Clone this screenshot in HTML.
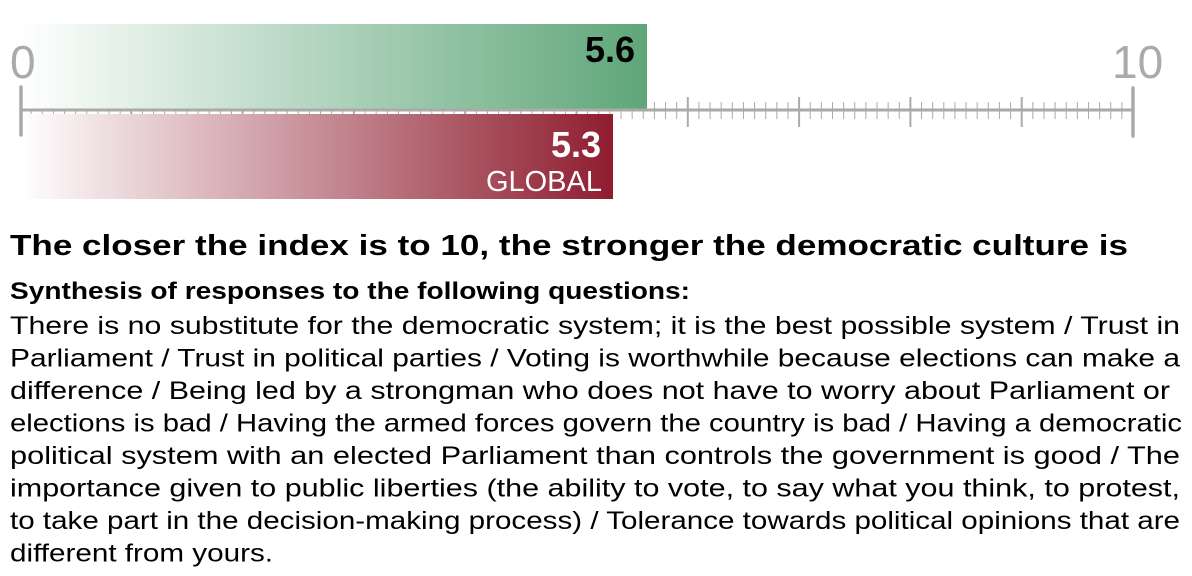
<!DOCTYPE html>
<html><head><meta charset="utf-8">
<style>
html,body{margin:0;padding:0;background:#fff;}
svg{display:block;}
text{font-family:"Liberation Sans",sans-serif;}
</style></head>
<body>
<svg id="s" width="1192" height="576" viewBox="0 0 1192 576" xmlns="http://www.w3.org/2000/svg">
<defs>
<linearGradient id="g" x1="0" x2="1" y1="0" y2="0">
<stop offset="0" stop-color="#5fa679" stop-opacity="0"/>
<stop offset="1" stop-color="#5fa679" stop-opacity="1"/>
</linearGradient>
<linearGradient id="r" x1="0" x2="1" y1="0" y2="0">
<stop offset="0" stop-color="#8e1d2f" stop-opacity="0"/>
<stop offset="1" stop-color="#8e1d2f" stop-opacity="1"/>
</linearGradient>
</defs>
<g id="ticks" stroke="#aaaaa7"></g>
<rect x="20" y="24" width="627" height="85" fill="#fff"/>
<rect x="20" y="114" width="593" height="85" fill="#fff"/>
<rect x="20" y="24" width="627" height="85" fill="url(#g)"/>
<rect x="20" y="114" width="593" height="85" fill="url(#r)"/>
<line x1="20" y1="110" x2="1133" y2="110" stroke="#aaaaa7" stroke-width="3"/>
<line x1="21" y1="87" x2="21" y2="135" stroke="#aaaaa7" stroke-width="3.5" stroke-linecap="round"/>
<line x1="1133" y1="88" x2="1133" y2="136" stroke="#aaaaa7" stroke-width="3.5" stroke-linecap="round"/>
<text x="10" y="78" font-size="46" fill="#aaaaa7">0</text>
<text x="1112" y="78" font-size="46" fill="#aaaaa7">10</text>
<text x="635" y="62" font-size="36" font-weight="bold" text-anchor="end" fill="#000">5.6</text>
<text x="601" y="157" font-size="36" font-weight="bold" text-anchor="end" fill="#fff">5.3</text>
<text x="602" y="191" font-size="29" text-anchor="end" fill="#fff">GLOBAL</text>
<text x="10" y="255" font-size="29" font-weight="bold" textLength="1118" lengthAdjust="spacingAndGlyphs">The closer the index is to 10, the stronger the democratic culture is</text>
<text x="10" y="299" font-size="24" font-weight="bold" textLength="680" lengthAdjust="spacingAndGlyphs">Synthesis of responses to the following questions:</text>
<g font-size="25" fill="#000">
<text x="10" y="334" textLength="1170" lengthAdjust="spacingAndGlyphs">There is no substitute for the democratic system; it is the best possible system / Trust in</text>
<text x="10" y="366.5" textLength="1170" lengthAdjust="spacingAndGlyphs">Parliament / Trust in political parties / Voting is worthwhile because elections can make a</text>
<text x="10" y="399" textLength="1160" lengthAdjust="spacingAndGlyphs">difference / Being led by a strongman who does not have to worry about Parliament or</text>
<text x="10" y="431.5" textLength="1172" lengthAdjust="spacingAndGlyphs">elections is bad / Having the armed forces govern the country is bad / Having a democratic</text>
<text x="10" y="464" textLength="1170" lengthAdjust="spacingAndGlyphs">political system with an elected Parliament than controls the government is good / The</text>
<text x="10" y="496.5" textLength="1170" lengthAdjust="spacingAndGlyphs">importance given to public liberties (the ability to vote, to say what you think, to protest,</text>
<text x="10" y="529" textLength="1170" lengthAdjust="spacingAndGlyphs">to take part in the decision-making process) / Tolerance towards political opinions that are</text>
<text x="10" y="561.5" textLength="263" lengthAdjust="spacingAndGlyphs">different from yours.</text>
</g>
</svg>
<script>
var g=document.getElementById('ticks'),ns='http://www.w3.org/2000/svg';
for(var i=1;i<100;i++){var x=20+i*11.13;var l=document.createElementNS(ns,'line');
var maj=i%10==0;l.setAttribute('x1',x);l.setAttribute('x2',x);
l.setAttribute('y1',maj?97:102);l.setAttribute('y2',maj?127:119);
l.setAttribute('stroke-width',maj?2:1);g.appendChild(l);}
</script>
</body></html>
